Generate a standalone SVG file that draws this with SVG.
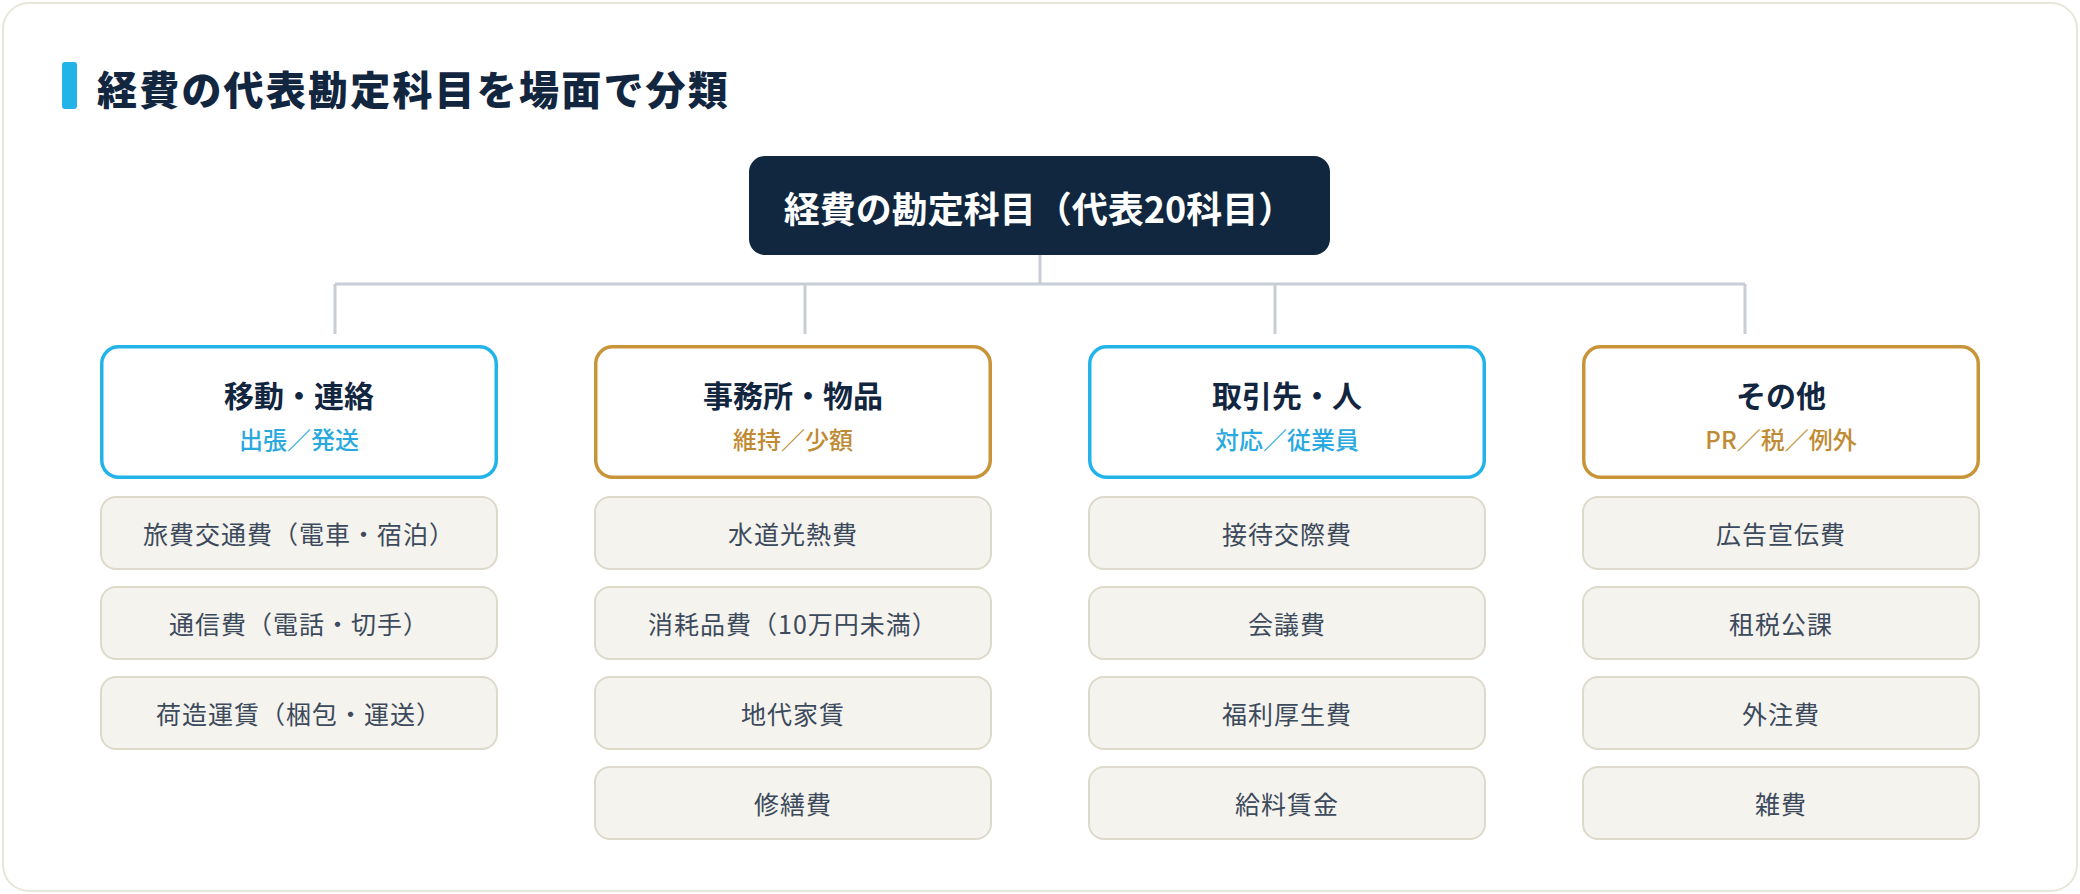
<svg xmlns="http://www.w3.org/2000/svg" width="2080" height="894" viewBox="0 0 2080 894">
<style>
text{font-family:"Noto Sans CJK JP","Noto Sans",sans-serif;text-anchor:middle;dominant-baseline:central}
.title{font-size:40px;font-weight:900;fill:#12263f;text-anchor:start;letter-spacing:2.2px}
.root{font-size:36px;font-weight:700;fill:#ffffff}
.cat{fill:#ffffff;stroke-width:3.5}
.blue{stroke:#22b4e8}
.gold{stroke:#c8943a}
.ct{font-size:30px;font-weight:700;fill:#12263f}
.cs{font-size:24px;font-weight:500}
.cs.b{fill:#2aa9de}
.cs.g{fill:#c08b34}
.item rect{fill:#f5f3ee;stroke:#dedacb;stroke-width:2}
.item text{font-size:25px;fill:#3c4a5c;letter-spacing:1px}
.conn{stroke:#c8cdd6;stroke-width:3;fill:none}
</style>
<rect x="3" y="3" width="2074" height="888" rx="26" fill="#ffffff" stroke="#e8e5da" stroke-width="2"/>
<g id="title">
<rect x="62" y="62" width="15" height="47" rx="3" fill="#22b4e8"/>
<text class="title" x="97" y="88">経費の代表勘定科目を場面で分類</text>
</g>
<g id="connectors">
<path class="conn" d="M1040 255V284M335 284H1745M335 284V334M805 284V334M1275 284V334M1745 284V334"/>
</g>
<g id="root">
<rect x="749" y="156" width="581" height="99" rx="16" fill="#10273f"/>
<text class="root" x="1039" y="207">経費の勘定科目（代表20科目）</text>
</g>
<g id="cat1">
<rect class="cat blue" x="101.75" y="346.75" width="394.5" height="130.5" rx="17"/>
<text class="ct" x="299" y="394">移動・連絡</text>
<text class="cs b" x="299" y="438">出張／発送</text>
</g>
<g id="cat2">
<rect class="cat gold" x="595.75" y="346.75" width="394.5" height="130.5" rx="17"/>
<text class="ct" x="793" y="394">事務所・物品</text>
<text class="cs g" x="793" y="438">維持／少額</text>
</g>
<g id="cat3">
<rect class="cat blue" x="1089.75" y="346.75" width="394.5" height="130.5" rx="17"/>
<text class="ct" x="1287" y="394">取引先・人</text>
<text class="cs b" x="1287" y="438">対応／従業員</text>
</g>
<g id="cat4">
<rect class="cat gold" x="1583.75" y="346.75" width="394.5" height="130.5" rx="17"/>
<text class="ct" x="1781" y="394">その他</text>
<text class="cs g" x="1781" y="438">PR／税／例外</text>
</g>
<g id="i1a" class="item"><rect x="101" y="497" width="396" height="72" rx="15"/><text x="299" y="533">旅費交通費（電車・宿泊）</text></g>
<g id="i1b" class="item"><rect x="101" y="587" width="396" height="72" rx="15"/><text x="299" y="623">通信費（電話・切手）</text></g>
<g id="i1c" class="item"><rect x="101" y="677" width="396" height="72" rx="15"/><text x="299" y="713">荷造運賃（梱包・運送）</text></g>
<g id="i2a" class="item"><rect x="595" y="497" width="396" height="72" rx="15"/><text x="793" y="533">水道光熱費</text></g>
<g id="i2b" class="item"><rect x="595" y="587" width="396" height="72" rx="15"/><text x="793" y="623">消耗品費（10万円未満）</text></g>
<g id="i2c" class="item"><rect x="595" y="677" width="396" height="72" rx="15"/><text x="793" y="713">地代家賃</text></g>
<g id="i2d" class="item"><rect x="595" y="767" width="396" height="72" rx="15"/><text x="793" y="803">修繕費</text></g>
<g id="i3a" class="item"><rect x="1089" y="497" width="396" height="72" rx="15"/><text x="1287" y="533">接待交際費</text></g>
<g id="i3b" class="item"><rect x="1089" y="587" width="396" height="72" rx="15"/><text x="1287" y="623">会議費</text></g>
<g id="i3c" class="item"><rect x="1089" y="677" width="396" height="72" rx="15"/><text x="1287" y="713">福利厚生費</text></g>
<g id="i3d" class="item"><rect x="1089" y="767" width="396" height="72" rx="15"/><text x="1287" y="803">給料賃金</text></g>
<g id="i4a" class="item"><rect x="1583" y="497" width="396" height="72" rx="15"/><text x="1781" y="533">広告宣伝費</text></g>
<g id="i4b" class="item"><rect x="1583" y="587" width="396" height="72" rx="15"/><text x="1781" y="623">租税公課</text></g>
<g id="i4c" class="item"><rect x="1583" y="677" width="396" height="72" rx="15"/><text x="1781" y="713">外注費</text></g>
<g id="i4d" class="item"><rect x="1583" y="767" width="396" height="72" rx="15"/><text x="1781" y="803">雑費</text></g>
</svg>
